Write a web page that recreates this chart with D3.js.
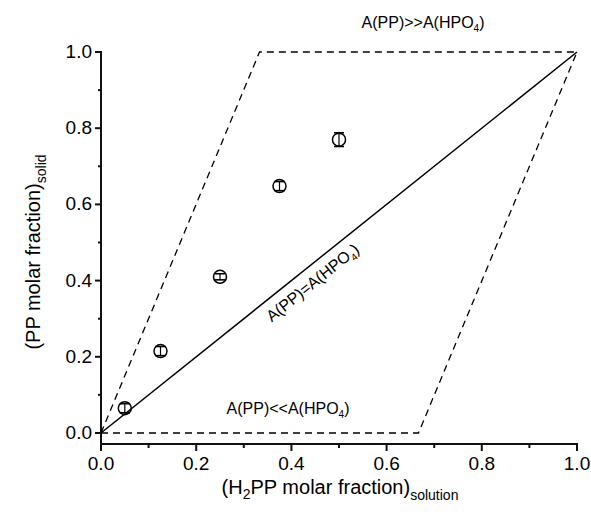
<!DOCTYPE html>
<html>
<head>
<meta charset="utf-8">
<script src="https://cdn.jsdelivr.net/npm/d3@7"></script>
<style>
  body { margin: 0; background: #fff; }
  svg { display: block; }
  text { font-family: "Liberation Sans", Arial, sans-serif; fill: #000; }
</style>
</head>
<body>
<svg id="chart" width="591" height="521"></svg>
<script>
// Measured PP fraction in the solid vs H2PP fraction in solution
const xValues = [0.05, 0.125, 0.25, 0.375, 0.5];
const yValues = [0.065, 0.215, 0.41, 0.648, 0.77];
const yErrors = [0.012, 0.012, 0.008, 0.012, 0.018];

// Reference lines: equal affinity diagonal and limiting envelopes
const diagonal = [[0, 0], [1, 1]];
const upperBound = [[0, 0], [0.333, 1], [1, 1]];
const lowerBound = [[0, 0], [0.667, 0], [1, 1]];

const tickValues = [0, 0.2, 0.4, 0.6, 0.8, 1.0];
const minorTicks = [0.1, 0.3, 0.5, 0.7, 0.9];

const svg = d3.select("#chart");
const x = d3.scaleLinear().domain([0, 1]).range([101, 577]);
const y = d3.scaleLinear().domain([0, 1]).range([433, 52]);
const yBottom = 444;
const fmt = d3.format(".1f");

// x axis
const xAxis = svg.append("g").attr("class", "axis").attr("transform", `translate(0,${yBottom})`)
  .call(d3.axisBottom(x).tickValues(tickValues).tickFormat(fmt).tickSize(7).tickSizeOuter(0).offset(0));
xAxis.selectAll(".tick text").attr("y", 13);
const xMinor = svg.append("g").attr("class", "axis").attr("transform", `translate(0,${yBottom})`)
  .call(d3.axisBottom(x).tickValues(minorTicks).tickFormat("").tickSize(4).tickSizeOuter(0).offset(0));
xMinor.select(".domain").remove();

// y axis
const yAxis = svg.append("g").attr("class", "axis").attr("transform", `translate(${x(0)},0)`)
  .call(d3.axisLeft(y).tickValues(tickValues).tickFormat(fmt).tickSize(6).tickSizeOuter(0).offset(0));
const yMinor = svg.append("g").attr("class", "axis").attr("transform", `translate(${x(0)},0)`)
  .call(d3.axisLeft(y).tickValues(minorTicks).tickFormat("").tickSize(3).tickSizeOuter(0).offset(0));
yMinor.select(".domain").remove();

// spines: the y spine runs down past zero to meet the x axis line
xAxis.select(".domain").attr("d", `M${x(0) - 1},0H${x(1) + 1}`);
yAxis.select(".domain").attr("d", `M0,${y(1) - 1}V${yBottom + 1}`);
svg.selectAll(".axis .domain").attr("stroke", "#111").attr("stroke-width", 2).attr("fill", "none");
svg.selectAll(".axis .tick line").attr("stroke", "#111").attr("stroke-width", 2);
svg.selectAll(".axis .tick text").attr("font-size", 19).attr("fill", "#000");

// Reference lines
const line = d3.line().x(d => x(d[0])).y(d => y(d[1]));
svg.append("path").attr("d", line(upperBound)).attr("fill", "none")
  .attr("stroke", "#000").attr("stroke-width", 1.3).attr("stroke-dasharray", "7,5");
svg.append("path").attr("d", line(lowerBound)).attr("fill", "none")
  .attr("stroke", "#000").attr("stroke-width", 1.3).attr("stroke-dasharray", "7,5");
svg.append("path").attr("d", line(diagonal)).attr("fill", "none")
  .attr("stroke", "#000").attr("stroke-width", 1.5);

// Data points with error bars
const pts = xValues.map((v, i) => ({ x: v, y: yValues[i], e: yErrors[i] }));
const pg = svg.append("g").selectAll("g").data(pts).join("g");
pg.append("line")
  .attr("x1", d => x(d.x)).attr("x2", d => x(d.x))
  .attr("y1", d => y(d.y - d.e)).attr("y2", d => y(d.y + d.e))
  .attr("stroke", "#000").attr("stroke-width", 1.2);
pg.append("line")
  .attr("x1", d => x(d.x) - 5).attr("x2", d => x(d.x) + 5)
  .attr("y1", d => y(d.y - d.e)).attr("y2", d => y(d.y - d.e))
  .attr("stroke", "#000").attr("stroke-width", 1.6);
pg.append("line")
  .attr("x1", d => x(d.x) - 5).attr("x2", d => x(d.x) + 5)
  .attr("y1", d => y(d.y + d.e)).attr("y2", d => y(d.y + d.e))
  .attr("stroke", "#000").attr("stroke-width", 1.6);
pg.append("circle")
  .attr("cx", d => x(d.x)).attr("cy", d => y(d.y)).attr("r", 6.5)
  .attr("fill", "none").attr("stroke", "#000").attr("stroke-width", 1.5);

// Region annotations
function label(tx, ty, rot, rel) {
  const t = svg.append("text")
    .attr("transform", `translate(${tx},${ty}) rotate(${rot})`)
    .attr("text-anchor", "middle").attr("font-size", 16);
  t.append("tspan").text("A(PP)" + rel + "A(HPO");
  t.append("tspan").attr("font-size", 10).attr("dy", 4).text("4");
  t.append("tspan").attr("dy", -4).text(")");
  return t;
}
label(423, 28, 0, ">>");
label(288, 414, 0, "<<");
const ang = Math.atan2(y(1) - y(0), x(1) - x(0)) * 180 / Math.PI;
label(316, 287, ang, "=");

// Axis titles
const xt = svg.append("text").attr("x", 340).attr("y", 494)
  .attr("text-anchor", "middle").attr("font-size", 20);
xt.append("tspan").text("(H");
xt.append("tspan").attr("font-size", 14).attr("dy", 5).text("2");
xt.append("tspan").attr("dy", -5).text("PP molar fraction)");
xt.append("tspan").attr("font-size", 14).attr("dy", 6).text("solution");

const yt = svg.append("text").attr("transform", "translate(40,252) rotate(-90)")
  .attr("text-anchor", "middle").attr("font-size", 20);
yt.append("tspan").text("(PP molar fraction)");
yt.append("tspan").attr("font-size", 14).attr("dy", 6).text("solid");
</script>
</body>
</html>
